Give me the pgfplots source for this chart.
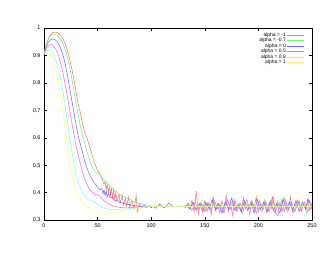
\documentclass[border=0pt]{standalone}
\usepackage{pgfplots}
\pgfplotsset{compat=1.18}
\usepackage{fontspec}
\setmainfont{Liberation Sans}
\definecolor{gred}{RGB}{250,120,120}
\definecolor{ggreen}{RGB}{120,240,120}
\definecolor{gblue}{RGB}{110,110,250}
\definecolor{gmag}{RGB}{250,100,250}
\definecolor{gcyan}{RGB}{120,255,255}
\definecolor{gyel}{RGB}{255,255,100}
\begin{document}
\begin{tikzpicture}
\useasboundingbox (0,0) rectangle (332bp,257bp);
\begin{axis}[
  at={(44bp,37bp)}, anchor=south west,
  scale only axis, width=268bp, height=192bp,
  xmin=0, xmax=250, ymin=0.3, ymax=1,
  xtick={0,50,100,150,200,250},
  ytick={0.3,0.4,0.5,0.6,0.7,0.8,0.9,1},
  /pgf/number format/assume math mode=true,
  yticklabel style={/pgf/number format/fixed, /pgf/number format/precision=1},
  tick label style={font=\fontsize{5.5}{6}\selectfont},
  major tick length=3bp,
  tick style={black, line width=0.4pt},
  axis line style={line width=0.5pt},
  every axis plot/.append style={line width=0.55pt},
  legend plot pos=right,
  legend cell align=right,
  legend style={at={(1,1)}, anchor=north east, xshift=-5bp, yshift=-2bp,
    draw=none, fill=none, font=\fontsize{5}{5}\selectfont,
    nodes={inner sep=0.4pt, text height=3.8bp, text depth=0.6bp}, row sep=0.3bp},
]
\addplot[gred] coordinates {(0,0.905) (2,0.94) (4,0.96) (6,0.975) (8,0.983) (10,0.985) (12,0.983) (14,0.978) (16,0.97) (18,0.958) (20,0.94) (22,0.915) (24,0.885) (26,0.85) (28,0.81) (30,0.765) (32,0.72) (34,0.69) (36,0.65) (38,0.62) (40,0.6) (42,0.575) (44,0.55) (46,0.52) (48,0.5) (50,0.48) (52,0.47)
(54,0.45) (56,0.43) (57,0.44) (58,0.41) (59,0.43) (60,0.40) (61,0.42) (62,0.39) (63,0.415) (64,0.38) (65,0.41) (66,0.375) (67,0.40) (68,0.37) (70,0.395) (71,0.36) (73,0.39) (74,0.355) (76,0.38) (77,0.35) (79,0.385) (80,0.345) (82,0.37) (84,0.34) (86,0.39) (87,0.33) (89,0.36) (91,0.345) (93,0.355) (95,0.35) (100,0.35) (110,0.35) (120,0.35) (128,0.35)
(130,0.35) (132,0.345) (134,0.36) (136,0.34) (138,0.37) (140,0.33) (142,0.405) (144,0.32) (146,0.36) (148,0.34) (150,0.37) (152,0.33) (154,0.36) (156,0.32) (158,0.38) (160,0.34) (162,0.36) (164,0.325) (166,0.37) (168,0.34) (170,0.39) (172,0.33) (174,0.36) (176,0.315) (178,0.375) (180,0.34) (182,0.36) (184,0.33) (186,0.38) (188,0.34) (190,0.355) (192,0.32) (194,0.37) (196,0.34) (198,0.385) (200,0.33) (202,0.36) (204,0.34) (206,0.37) (208,0.325) (210,0.36) (212,0.34) (214,0.38) (216,0.33) (218,0.36) (220,0.34) (222,0.375) (224,0.33) (226,0.36) (228,0.34) (230,0.385) (232,0.33) (234,0.36) (236,0.345) (238,0.37) (240,0.33) (242,0.36) (244,0.34) (246,0.375) (248,0.335) (250,0.355)};
\addlegendentry{alpha = -1}
\addplot[ggreen] coordinates {(0,0.905) (2,0.94) (4,0.96) (6,0.972) (8,0.977) (10,0.977) (12,0.974) (14,0.967) (16,0.955) (18,0.94) (20,0.92) (22,0.89) (24,0.855) (26,0.815) (28,0.77) (30,0.725) (32,0.68) (34,0.64) (36,0.61) (38,0.58) (40,0.55) (42,0.525) (44,0.5) (46,0.485) (48,0.475) (50,0.47) (52,0.465) (55,0.45) (58,0.44) (61,0.425) (64,0.415) (67,0.405) (70,0.395) (75,0.385) (80,0.375) (85,0.365) (90,0.36) (95,0.355) (100,0.352) (110,0.35) (120,0.35) (130,0.35)
(140,0.355) (143,0.34) (146,0.365) (149,0.335) (152,0.36) (155,0.335) (158,0.37) (161,0.34) (164,0.355) (167,0.33) (170,0.365) (173,0.34) (176,0.375) (179,0.335) (182,0.36) (185,0.325) (188,0.365) (191,0.345) (194,0.37) (197,0.335) (200,0.355) (203,0.33) (206,0.375) (209,0.34) (212,0.365) (215,0.325) (218,0.37) (221,0.335) (224,0.385) (227,0.33) (230,0.365) (233,0.325) (236,0.375) (239,0.34) (242,0.36) (245,0.325) (248,0.37) (250,0.35)};
\addlegendentry{alpha = -0.7}
\addplot[gblue] coordinates {(0,0.905) (2,0.93) (4,0.948) (6,0.957) (8,0.96) (10,0.958) (12,0.952) (14,0.94) (16,0.922) (18,0.898) (20,0.865) (22,0.825) (24,0.78) (26,0.735) (28,0.69) (30,0.645) (32,0.605) (34,0.575) (36,0.545) (38,0.515) (40,0.49) (42,0.47) (44,0.455) (46,0.44) (48,0.43) (50,0.42) (52,0.41) (54,0.415) (55,0.395) (56,0.41) (57,0.39) (58,0.405) (59,0.385) (60,0.395) (62,0.38) (64,0.385) (66,0.37) (68,0.372) (70,0.365) (75,0.36) (80,0.355) (85,0.352) (90,0.35) (95,0.345) (98,0.35) (100,0.345) (102,0.35) (104,0.343) (106,0.35) (108,0.358) (110,0.35) (112,0.345) (114,0.35) (116,0.36) (118,0.358) (120,0.35) (125,0.35) (130,0.35)
(133,0.352) (136,0.34) (139,0.365) (142,0.335) (145,0.36) (148,0.33) (151,0.365) (154,0.34) (157,0.375) (160,0.335) (163,0.36) (166,0.325) (169,0.365) (172,0.34) (175,0.38) (178,0.335) (181,0.355) (184,0.33) (187,0.37) (190,0.335) (193,0.365) (196,0.325) (199,0.375) (202,0.34) (205,0.365) (208,0.33) (211,0.37) (214,0.335) (217,0.36) (220,0.325) (223,0.375) (226,0.34) (229,0.365) (232,0.335) (235,0.37) (238,0.33) (241,0.365) (244,0.34) (247,0.375) (250,0.34)};
\addlegendentry{alpha = 0}
\addplot[gmag] coordinates {(0,0.905) (2,0.925) (4,0.935) (6,0.94) (8,0.938) (10,0.93) (12,0.915) (14,0.893) (16,0.865) (18,0.83) (20,0.79) (22,0.745) (24,0.7) (26,0.655) (28,0.61) (30,0.57) (32,0.535) (34,0.505) (36,0.475) (38,0.45) (40,0.43) (42,0.415) (44,0.405) (46,0.398) (48,0.39) (50,0.393) (52,0.388) (54,0.378) (56,0.37) (58,0.365) (60,0.36) (64,0.352) (68,0.348) (72,0.345) (76,0.344) (80,0.345) (90,0.347) (100,0.35) (110,0.35) (120,0.35) (130,0.35)
(132,0.35) (135,0.36) (138,0.335) (141,0.365) (144,0.34) (147,0.36) (150,0.33) (153,0.365) (156,0.335) (159,0.37) (162,0.34) (165,0.355) (168,0.325) (171,0.375) (174,0.34) (177,0.365) (180,0.33) (183,0.36) (186,0.335) (189,0.375) (192,0.34) (195,0.36) (198,0.325) (201,0.37) (204,0.335) (207,0.365) (210,0.33) (213,0.385) (216,0.325) (218,0.315) (220,0.365) (222,0.33) (225,0.375) (228,0.335) (231,0.365) (234,0.33) (237,0.37) (240,0.335) (243,0.365) (246,0.33) (249,0.36) (250,0.35)};
\addlegendentry{alpha = 0.5}
\addplot[gcyan] coordinates {(0,0.905) (2,0.915) (4,0.92) (6,0.918) (8,0.91) (10,0.895) (12,0.87) (14,0.84) (16,0.805) (18,0.76) (20,0.71) (22,0.655) (24,0.6) (26,0.55) (28,0.505) (30,0.465) (32,0.435) (34,0.415) (36,0.4) (38,0.39) (40,0.38) (44,0.37) (48,0.363) (50,0.36) (52,0.352) (55,0.345) (60,0.34) (65,0.338) (70,0.338) (75,0.34) (80,0.342) (90,0.346) (100,0.35) (150,0.35) (200,0.35) (250,0.35)};
\addlegendentry{alpha = 0.8}
\addplot[gyel] coordinates {(0,0.905) (2,0.912) (4,0.912) (6,0.905) (8,0.89) (10,0.865) (12,0.83) (14,0.79) (16,0.74) (18,0.685) (20,0.625) (22,0.565) (24,0.51) (26,0.465) (28,0.43) (30,0.405) (32,0.39) (34,0.375) (36,0.365) (38,0.357) (40,0.35) (44,0.342) (48,0.335) (52,0.33) (56,0.327) (60,0.325) (65,0.326) (70,0.329) (75,0.333) (80,0.338) (90,0.344) (100,0.349) (110,0.35) (250,0.35)};
\addlegendentry{alpha = 1}
\end{axis}
\end{tikzpicture}
\end{document}
